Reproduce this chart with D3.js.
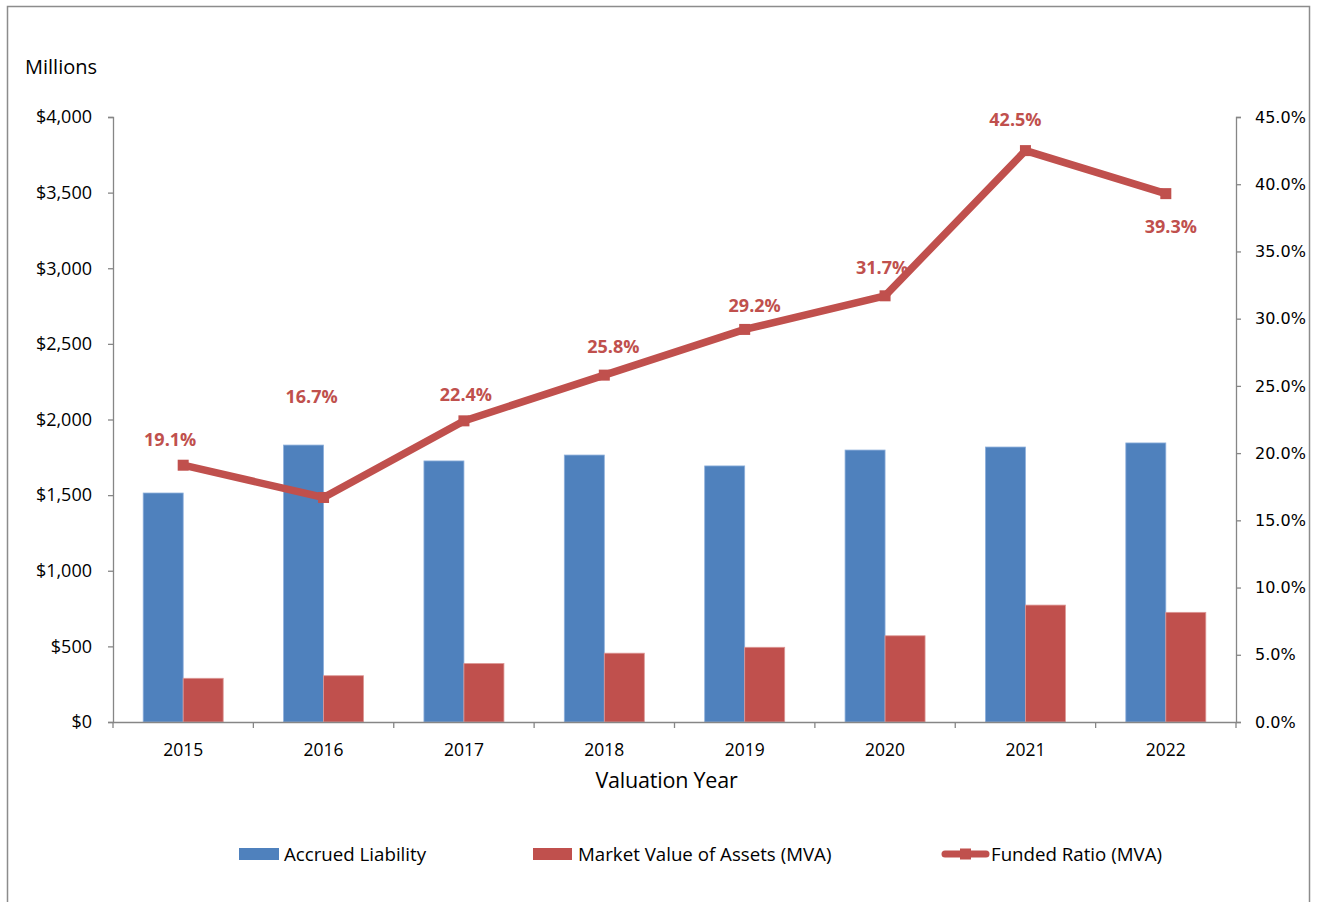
<!doctype HTML>
<html>
<head>
    <style>
        body { margin: 0; background: #fff; }
        text { font-family: "Open Sans", Lato, sans-serif; fill: #000; }
        .pct text { font-family: "DejaVu Sans", sans-serif; }
    </style>
    <script src="https://d3js.org/d3.v7.min.js"></script>
</head>
<body>
<script>
    // values (millions / percent)
    var years = ["2015", "2016", "2017", "2018", "2019", "2020", "2021", "2022"];
    var accruedLiability = [1514, 1831, 1726, 1765, 1693, 1798, 1818, 1845];
    var marketValue = [289, 306, 387, 455, 494, 570, 773, 725];
    var fundedRatio = [19.1, 16.7, 22.4, 25.8, 29.2, 31.7, 42.5, 39.3];
    var leftTicks = [0, 500, 1000, 1500, 2000, 2500, 3000, 3500, 4000];
    var rightTicks = [0, 5, 10, 15, 20, 25, 30, 35, 40, 45];

    // data label nudges (px) relative to each marker, as Excel placed them
    var labelDx = [-13, -12, 2, 9, 10, -3, -10, 5];
    var labelDy = [-19, -94, -20, -22, -17, -22, -25, 39];

    var canvasWidth = 1317;
    var canvasHeight = 902;
    var blue = "#4f81bd";
    var red = "#c0504d";
    var axisColor = "#868686";

    var svg = d3.select("body").append("svg")
        .attr("width", canvasWidth)
        .attr("height", canvasHeight);

    // outer frame
    svg.append("rect")
        .attr("x", 7.5).attr("y", 6.5)
        .attr("width", 1302).attr("height", 920)
        .attr("fill", "none")
        .attr("stroke", "#8c8c8c")
        .attr("stroke-width", 1.5);

    var plotLeft = 113, plotRight = 1236, plotTop = 117, plotBottom = 722;

    var x = d3.scaleBand().domain(years).range([plotLeft, plotRight]);
    var yL = d3.scaleLinear().domain([0, 4000]).range([plotBottom, plotTop]);
    var yR = d3.scaleLinear().domain([0, 45]).range([plotBottom, plotTop]);
    var barW = 40;

    // bars
    svg.selectAll(".al")
        .data(years)
        .enter().append("rect")
        .attr("class", "al")
        .attr("x", function(d) { return x(d) + x.bandwidth() / 2 - barW; })
        .attr("y", function(d, i) { return yL(accruedLiability[i]); })
        .attr("width", barW)
        .attr("height", function(d, i) { return plotBottom - yL(accruedLiability[i]); })
        .attr("fill", blue)
        .attr("stroke", "#8eb0db").attr("stroke-width", 0.8);

    svg.selectAll(".mva")
        .data(years)
        .enter().append("rect")
        .attr("class", "mva")
        .attr("x", function(d) { return x(d) + x.bandwidth() / 2; })
        .attr("y", function(d, i) { return yL(marketValue[i]); })
        .attr("width", barW)
        .attr("height", function(d, i) { return plotBottom - yL(marketValue[i]); })
        .attr("fill", red)
        .attr("stroke", "#dd9896").attr("stroke-width", 0.8);

    // left axis
    var gL = svg.append("g")
        .attr("transform", "translate(" + plotLeft + ",0)")
        .call(d3.axisLeft(yL).tickValues(leftTicks).tickSize(5).tickPadding(16)
            .tickFormat(function(d) { return "$" + d3.format(",")(d); }));
    gL.selectAll("text").attr("font-size", "18px");

    // right axis
    var gR = svg.append("g")
        .attr("class", "pct")
        .attr("transform", "translate(" + plotRight + ",0)")
        .call(d3.axisRight(yR).tickValues(rightTicks).tickSize(5).tickPadding(14)
            .tickFormat(function(d) { return d.toFixed(1) + "%"; }));
    gR.selectAll("text").attr("font-size", "16px");

    // bottom axis with ticks at category boundaries
    var gB = svg.append("g")
        .attr("transform", "translate(0," + plotBottom + ")")
        .call(d3.axisBottom(x).tickSize(0).tickPadding(22));
    gB.selectAll("text").attr("font-size", "17.5px");
    gB.selectAll(".bound")
        .data(years.concat(["end"]))
        .enter().append("line")
        .attr("class", "bound")
        .attr("x1", function(d, i) { return i < years.length ? x(d) : plotRight; })
        .attr("x2", function(d, i) { return i < years.length ? x(d) : plotRight; })
        .attr("y1", 0).attr("y2", 6);

    [gL, gR, gB].forEach(function(g) {
        g.selectAll("path, line").attr("stroke", axisColor).attr("stroke-width", 1.3);
    });

    // funded ratio line
    var line = d3.line()
        .x(function(d, i) { return x(years[i]) + x.bandwidth() / 2; })
        .y(function(d) { return yR(d); });

    svg.append("path")
        .datum(fundedRatio)
        .attr("d", line)
        .attr("fill", "none")
        .attr("stroke", red)
        .attr("stroke-width", 7.5)
        .attr("stroke-linejoin", "miter");

    svg.selectAll(".marker")
        .data(fundedRatio)
        .enter().append("rect")
        .attr("class", "marker")
        .attr("x", function(d, i) { return x(years[i]) + x.bandwidth() / 2 - 5.5; })
        .attr("y", function(d) { return yR(d) - 5.5; })
        .attr("width", 11).attr("height", 11)
        .attr("fill", red);

    svg.selectAll(".lbl")
        .data(fundedRatio)
        .enter().append("text")
        .attr("class", "lbl")
        .attr("x", function(d, i) { return x(years[i]) + x.bandwidth() / 2 + labelDx[i]; })
        .attr("y", function(d, i) { return yR(d) + labelDy[i]; })
        .attr("text-anchor", "middle")
        .attr("font-size", "18px")
        .attr("font-weight", "bold")
        .style("fill", red)
        .text(function(d) { return d.toFixed(1) + "%"; });

    // axis titles
    svg.append("text")
        .attr("x", 25).attr("y", 74)
        .attr("font-size", "20px")
        .text("Millions");

    svg.append("text")
        .attr("x", (plotLeft + plotRight) / 2 - 8).attr("y", 788)
        .attr("text-anchor", "middle")
        .attr("font-size", "21.5px")
        .attr("letter-spacing", "-0.2px")
        .text("Valuation Year");

    // legend
    var legY = 854;
    svg.append("rect").attr("x", 239).attr("y", legY - 6).attr("width", 40).attr("height", 12).attr("fill", blue);
    svg.append("text").attr("x", 284).attr("y", legY + 7).attr("font-size", "18.7px").text("Accrued Liability");

    svg.append("rect").attr("x", 533).attr("y", legY - 6).attr("width", 39).attr("height", 12).attr("fill", red);
    svg.append("text").attr("x", 578).attr("y", legY + 7).attr("font-size", "18.7px").text("Market Value of Assets (MVA)");

    svg.append("line").attr("x1", 945).attr("x2", 986).attr("y1", legY).attr("y2", legY)
        .attr("stroke", red).attr("stroke-width", 7).attr("stroke-linecap", "round");
    svg.append("rect").attr("x", 960).attr("y", legY - 5.5).attr("width", 11).attr("height", 11).attr("fill", red);
    svg.append("text").attr("x", 991).attr("y", legY + 7).attr("font-size", "18.7px").text("Funded Ratio (MVA)");
</script>
</body>
</html>
